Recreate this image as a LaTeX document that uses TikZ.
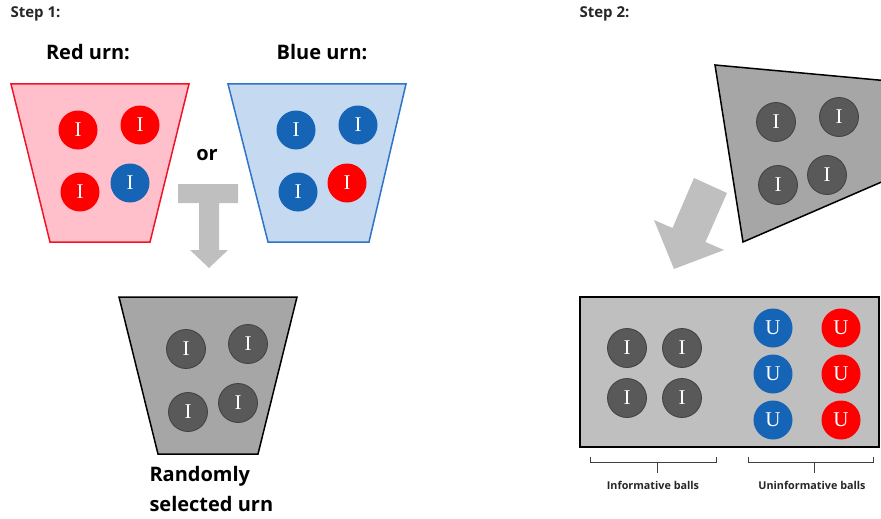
\documentclass[tikz,border=0pt]{standalone}
\usepackage{fontspec}
\setmainfont{Open Sans}
\newfontfamily\ballfont{Liberation Serif}
\definecolor{ballred}{RGB}{255,0,0}
\definecolor{ballblue}{RGB}{22,100,182}
\definecolor{ballgray}{RGB}{89,89,89}
\definecolor{ballrim}{RGB}{64,64,64}
\definecolor{urnpink}{RGB}{255,192,203}
\definecolor{urnred}{RGB}{240,20,40}
\definecolor{urnsky}{RGB}{197,217,240}
\definecolor{urnblue}{RGB}{46,117,198}
\definecolor{urngray}{RGB}{166,166,166}
\definecolor{boxgray}{RGB}{191,191,191}
\definecolor{arrowgray}{RGB}{191,191,191}
\definecolor{bracegray}{RGB}{64,64,64}
\begin{document}
\begin{tikzpicture}[x=1pt,y=-1pt,
  ball/.style={circle,fill=#1,minimum size=39pt,inner sep=0pt,text=white,
    font=\ballfont\fontsize{21}{21}\selectfont},
  darkball/.style={ball=ballgray,draw=ballrim,line width=0.8pt},
  heading/.style={font=\bfseries\fontsize{15}{18}\selectfont,text=black!85,anchor=west},
  title/.style={font=\bfseries\fontsize{20}{24}\selectfont},
  caption/.style={font=\bfseries\fontsize{10.8}{13}\selectfont,text=black!85},
  brace/.style={draw=bracegray,line width=1pt},
  bigarrow/.style={fill=arrowgray}]
\useasboundingbox (0,0) rectangle (881,519);

% step headings
\node[heading] (s1) at (7,14) {Step 1:};
\node[heading] (s2) at (576,14) {Step 2:};

% red urn
\node[title] (redtitle) at (88,52) {Red urn:};
\filldraw[fill=urnpink,draw=urnred,line width=1.5pt]
  (11,84) -- (189,84) -- (150,242) -- (50,242) -- cycle;
\node[ball=ballred] (r1) at (78,130) {I};
\node[ball=ballred] (r2) at (140,125) {I};
\node[ball=ballred] (r3) at (80,192) {I};
\node[ball=ballblue] (r4) at (130,183) {I};

% blue urn
\node[title] (bluetitle) at (322,52) {Blue urn:};
\filldraw[fill=urnsky,draw=urnblue,line width=1.5pt]
  (228,84) -- (406,84) -- (369,242) -- (268,242) -- cycle;
\node[ball=ballblue] (b1) at (296,130) {I};
\node[ball=ballblue] (b2) at (358,125) {I};
\node[ball=ballblue] (b3) at (298,192) {I};
\node[ball=ballred] (b4) at (347,183) {I};

\node[title] (or) at (207,155) {or};

% T-shaped arrow into the selected urn
\fill[bigarrow] (178,184) -- (238,184) -- (238,203) -- (219,203) -- (219,250)
  -- (228,250) -- (209,268) -- (190,250) -- (199,250) -- (199,203)
  -- (178,203) -- cycle;

% randomly selected urn
\filldraw[fill=urngray,draw=black,line width=1.5pt]
  (119,297) -- (297,297) -- (258,454) -- (158,454) -- cycle;
\node[darkball] (g1) at (186,349) {I};
\node[darkball] (g2) at (248,344) {I};
\node[darkball] (g3) at (188,412) {I};
\node[darkball] (g4) at (238,403) {I};
\node[title,align=left,anchor=north west,font=\bfseries\fontsize{20}{30}\selectfont]
  (sel) at (146,463) {Randomly\\selected urn};

% tipped urn, cut off at the right edge
\begin{scope}
\clip (0,0) rectangle (881,519);
\filldraw[fill=urngray,draw=black,line width=1.5pt]
  (715,65) -- (900,82) -- (900,174) -- (743,242) -- cycle;
\end{scope}
\node[darkball] (t1) at (776,122) {I};
\node[darkball] (t2) at (839,117) {I};
\node[darkball] (t3) at (778,185) {I};
\node[darkball] (t4) at (827,175) {I};

% diagonal pouring arrow
\fill[bigarrow] (694,178) -- (727,193) -- (705.5,242) -- (724,250) -- (674,269)
  -- (654,220) -- (672.5,228) -- cycle;

% box of drawn balls
\filldraw[fill=boxgray,draw=black,line width=2pt] (580,297) rectangle (879,447);
\node[darkball] (i1) at (627,348) {I};
\node[darkball] (i2) at (682,348) {I};
\node[darkball] (i3) at (627,398) {I};
\node[darkball] (i4) at (682,398) {I};
\node[ball=ballblue] (u1) at (773,328) {U};
\node[ball=ballblue] (u2) at (773,374) {U};
\node[ball=ballblue] (u3) at (773,420) {U};
\node[ball=ballred] (u4) at (841,328) {U};
\node[ball=ballred] (u5) at (841,374) {U};
\node[ball=ballred] (u6) at (841,420) {U};

% braces and captions
\draw[brace] (590,457) -- (590,462) -- (716,462) -- (716,457) (657,462) -- (657,473);
\draw[brace] (748,457) -- (748,462) -- (873,462) -- (873,457) (814,462) -- (814,473);
\node[caption] (inf) at (653,485) {Informative balls};
\node[caption] (uninf) at (812,485) {Uninformative balls};
\end{tikzpicture}
\end{document}
